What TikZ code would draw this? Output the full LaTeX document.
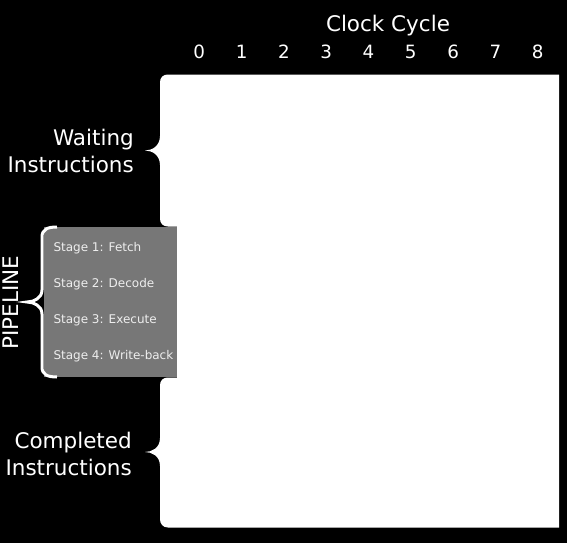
\documentclass[tikz,border=0pt]{standalone}
\usepackage{fontspec}
\setmainfont{DejaVu Sans}
\definecolor{stagegray}{RGB}{119,119,119}
\definecolor{stagetext}{RGB}{238,238,238}

\begin{document}
\begin{tikzpicture}[x=1pt, y=-1pt,
  bigtext/.style={text=white, inner sep=0pt, font=\fontsize{21.5}{26.7}\selectfont},
  cyclenum/.style={text=white, inner sep=0pt, anchor=base, font=\fontsize{18.3}{22}\selectfont},
  stagetxt/.style={text=stagetext, inner sep=0pt, anchor=base west, font=\fontsize{12}{14}\selectfont},
  bracepen/.style={draw=white, line width=3pt}]
  \fill[black] (0,0) rectangle (567,543);
  \useasboundingbox (0,0) rectangle (567,543);
  \fill[white] (559,74.5) -- (168,74.5) .. controls (163,74.5) and (160,77.5) .. (160,82.5)
    -- (160,136) .. controls (160,146) and (152,150.5) .. (145,150.5)
    .. controls (152,150.5) and (160,155) .. (160,165)
    -- (160,218.5) .. controls (160,223.5) and (163,226.5) .. (168,226.5)
    -- (177,226.5) -- (177,377.5) -- (168,377.5) .. controls (163,377.5) and (160,380.5) .. (160,385.5)
    -- (160,438) .. controls (160,448) and (152,452) .. (145,452)
    .. controls (152,452) and (160,456) .. (160,466)
    -- (160,519) .. controls (160,524) and (163,527.5) .. (168,527.5) -- (559,527.5) -- cycle;
  \fill[stagegray] (44,226.5) rectangle (177,376.5);
  \draw[bracepen] (57,227) .. controls (48,227) and (42,229) .. (42,237) -- (42,290)
    .. controls (42,298) and (34,302) .. (27,302) .. controls (34,302) and (42,306) .. (42,314)
    -- (42,367) .. controls (42,375) and (48,377) .. (57,377);
  \node[bigtext, anchor=base] (clock) at (388,31.7) {Clock Cycle};
  \foreach \i in {0,...,8}
    \node[cyclenum] (c\i) at ({199.3+42.3*\i},59) {\i};
  \node[bigtext, align=right, anchor=east] (waiting) at (134,151.3) {Waiting\\Instructions};
  \node[bigtext, align=right, anchor=east] (completed) at (132,453.7) {Completed\\Instructions};
  \node[bigtext, rotate=90, anchor=base] (pipeline) at (18.3,302.5) {PIPELINE};
  \foreach \lab [count=\k] in {Fetch, Decode, Execute, Write-back}
    \node[stagetxt] (stage\k) at (53.3,{215+36*\k}) {Stage \k: \lab};
\end{tikzpicture}
\end{document}
